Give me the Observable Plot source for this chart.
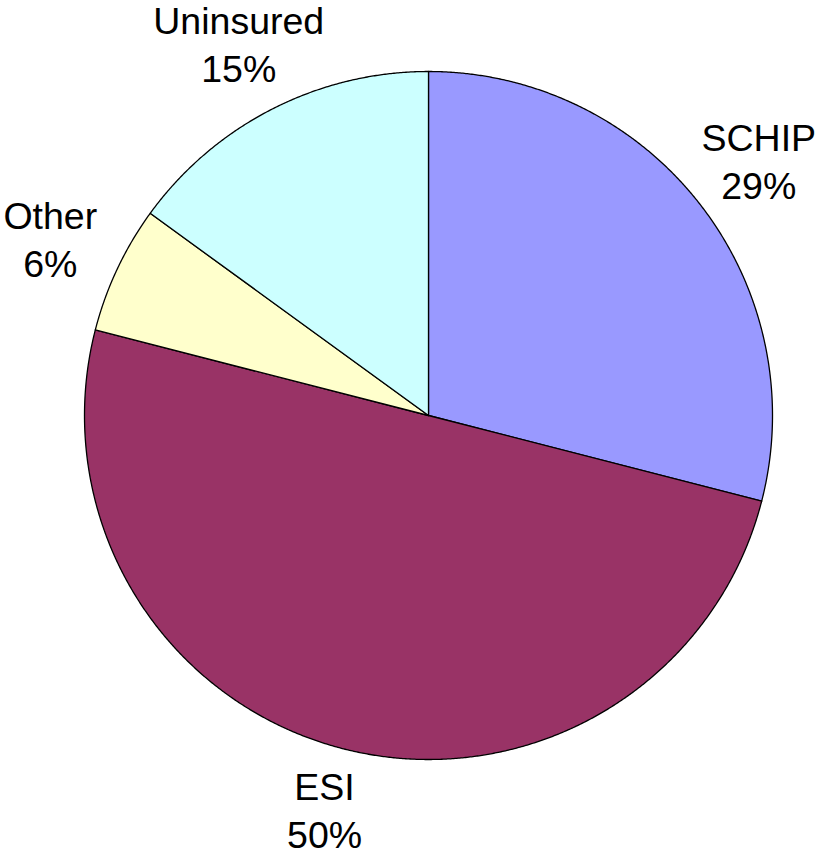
<!DOCTYPE html>
<html>
<head>
<meta charset="utf-8">
<script src="https://cdn.jsdelivr.net/npm/d3@7"></script>
<script src="https://cdn.jsdelivr.net/npm/@observablehq/plot@0.6"></script>
<style>
  html, body { margin: 0; padding: 0; background: #ffffff; }
  #chart { width: 825px; height: 858px; }
</style>
</head>
<body>
<div id="chart"></div>
<script>
// Data
const categories = ["SCHIP", "ESI", "Other", "Uninsured"];
const shares = [29, 50, 6, 15];
const colors = ["#9999FF", "#993366", "#FFFFCC", "#CCFFFF"];

// Layout
const W = 825, H = 858;
const CX = 428, CY = 415, R = 344;   // pixel centre and radius of the pie
const LABEL_R = 1.215;               // label distance in radii
const FONT = 37.5, LINE = 1.28;      // label font size (px) and line height (em)
const BOTTOM_PAD = 14;               // keep last label line inside the frame

const total = d3.sum(shares);
const slices = [];
let acc = 0;
categories.forEach((name, i) => {
  const a0 = acc / total * 2 * Math.PI;
  acc += shares[i];
  const a1 = acc / total * 2 * Math.PI;
  const pts = [{x: 0, y: 0}];
  const n = Math.max(2, Math.ceil((a1 - a0) / (Math.PI / 720)));
  for (let k = 0; k <= n; k++) {
    const a = a0 + (a1 - a0) * k / n;
    pts.push({x: Math.sin(a), y: Math.cos(a)});
  }
  pts.push({x: 0, y: 0});
  const mid = (a0 + a1) / 2;
  let ly = LABEL_R * Math.cos(mid);
  // last baseline sits (0.32em + 0.5 line) below the block centre; keep it in frame
  const below = (0.32 * FONT + 0.5 * LINE * FONT) / R;
  const minY = -(H - BOTTOM_PAD - CY) / R + below;
  if (ly < minY) ly = minY;
  slices.push({name, value: shares[i], color: colors[i], pts,
    lx: LABEL_R * Math.sin(mid), ly});
});

const chart = Plot.plot({
  width: W,
  height: H,
  margin: 0,
  x: {domain: [-CX / R, (W - CX) / R], axis: null},
  y: {domain: [-(H - CY) / R, CY / R], axis: null},
  style: {background: "#ffffff"},
  marks: [
    ...slices.map(s => Plot.line(s.pts, {
      x: "x", y: "y", fill: s.color, stroke: "#000000",
      strokeWidth: 1.3, strokeLinejoin: "round", curve: "linear"
    })),
    Plot.text(slices, {
      x: "lx", y: "ly",
      text: d => `${d.name}\n${d.value}%`,
      fontSize: FONT,
      fontFamily: "Liberation Sans, Arial, sans-serif",
      lineHeight: LINE,
      lineAnchor: "middle",
      textAnchor: "middle",
      fill: "#000000"
    })
  ]
});
document.getElementById("chart").appendChild(chart);
</script>
</body>
</html>
